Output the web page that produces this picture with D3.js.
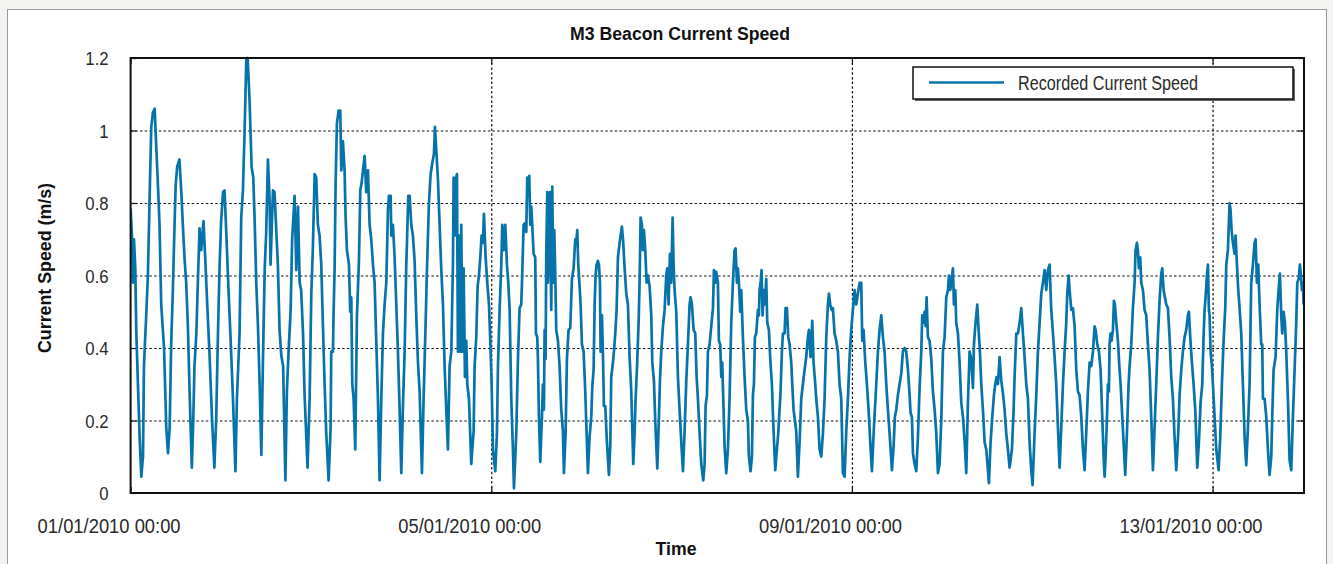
<!DOCTYPE html>
<html>
<head>
<meta charset="utf-8">
<script src="https://cdn.jsdelivr.net/npm/d3@7"></script>
<style>
body{margin:0;background:#f3f3f1;}
svg{display:block;}
</style>
</head>
<body>
<div id="chart"></div>
<script>
var chartTitle = "M3 Beacon Current Speed";
var yTitle = "Current Speed (m/s)";
var xTitle = "Time";
var legendLabel = "Recorded Current Speed";
var yTicks = [0, 0.2, 0.4, 0.6, 0.8, 1, 1.2];
var yTickLabels = ["0", "0.2", "0.4", "0.6", "0.8", "1", "1.2"];
var dateTicks = ["2010-01-01T00:00Z", "2010-01-05T00:00Z", "2010-01-09T00:00Z", "2010-01-13T00:00Z"];
var startTime = "2010-01-01T00:00Z";
var endTime = "2010-01-14T00:20Z";

// readings: [hours since 01/01/2010 00:00, speed m/s]
// 01/01 00:00 - 03/01 02:00
var obs1 = [[0,0.785],[0.35,0.71],[0.6,0.58],[0.9,0.70],[1.25,0.62],[1.5,0.45],[1.95,0.30],[2.4,0.155],[2.85,0.045],[3.3,0.10],[3.55,0.35],[4.2,0.50],[4.6,0.60],[5.05,0.81],[5.5,1.01],[5.95,1.05],[6.4,1.06],[6.85,0.95],[7.3,0.845],[7.7,0.74],[8.15,0.52],[8.9,0.40],[9.5,0.18],[9.95,0.11],[10.4,0.18],[10.8,0.41],[11.25,0.56],[11.7,0.74],[12.0,0.85],[12.4,0.90],[13.0,0.92],[13.5,0.83],[13.9,0.74],[14.4,0.64],[14.8,0.58],[15.25,0.46],[15.7,0.28],[16.3,0.07],[16.7,0.21],[17.0,0.35],[17.5,0.44],[17.9,0.58],[18.35,0.73],[18.8,0.67],[19.4,0.75],[19.9,0.64],[20.4,0.52],[21.0,0.385],[21.65,0.21],[22.3,0.07],[22.8,0.21],[23.25,0.44],[23.7,0.63],[24.1,0.75],[24.6,0.83],[25.0,0.835],[25.5,0.71],[26.1,0.55],[26.6,0.43],[27.25,0.26],[27.9,0.06],[28.3,0.26],[29.0,0.44],[29.45,0.76],[29.9,0.835],[30.35,1.00],[30.8,1.195],[31.15,1.2],[31.6,1.10],[31.95,0.99],[32.2,0.90],[32.65,0.87],[33.0,0.76],[33.45,0.58],[33.9,0.46],[34.35,0.30],[34.8,0.105],[35.2,0.35],[35.7,0.62],[36.1,0.72],[36.55,0.92],[37.0,0.81],[37.25,0.63],[37.9,0.835],[38.3,0.83],[38.8,0.72],[39.2,0.63],[39.65,0.45],[40.1,0.38],[40.6,0.35],[41.2,0.035],[41.6,0.28],[42.05,0.39],[42.6,0.505],[43.0,0.70],[43.65,0.82],[44.1,0.615],[44.55,0.79],[45.0,0.58],[45.4,0.56],[45.9,0.44],[46.3,0.275],[47.1,0.07],[47.65,0.26],[48.1,0.55],[48.5,0.67],[49.0,0.88],[49.4,0.87],[49.85,0.74],[50.3,0.71]];
// 03/01 02:00 - 05/01 07:30
var obs2 = [[50.75,0.63],[51.2,0.46],[51.64,0.30],[52.08,0.165],[52.71,0.035],[53.24,0.18],[53.41,0.39],[53.86,0.39],[54.04,0.50],[54.3,0.615],[54.57,0.855],[54.92,1.02],[55.37,1.055],[55.81,1.055],[56.08,0.89],[56.52,0.97],[56.96,0.89],[57.23,0.76],[57.59,0.67],[58.12,0.63],[58.47,0.50],[58.74,0.54],[59.01,0.30],[59.36,0.26],[59.8,0.12],[60.25,0.49],[60.78,0.64],[61.14,0.835],[61.49,0.855],[61.85,0.89],[62.29,0.93],[62.73,0.83],[63.18,0.89],[63.62,0.74],[64.06,0.70],[64.51,0.63],[64.95,0.58],[65.39,0.42],[65.84,0.26],[66.28,0.035],[66.73,0.26],[67.17,0.44],[67.61,0.52],[68.06,0.58],[68.5,0.78],[68.77,0.82],[69.21,0.82],[69.39,0.71],[69.83,0.74],[70.27,0.65],[70.72,0.52],[71.16,0.39],[71.61,0.23],[72.05,0.055],[72.49,0.24],[72.94,0.39],[73.38,0.63],[73.56,0.69],[73.91,0.82],[74.27,0.82],[74.71,0.74],[75.15,0.71],[75.6,0.64],[76.04,0.49],[76.49,0.36],[76.93,0.28],[77.55,0.055],[77.99,0.26],[78.53,0.47],[78.88,0.615],[79.41,0.80],[79.86,0.88],[80.3,0.91],[80.74,0.935],[81.01,1.01],[81.37,0.945],[81.81,0.865],[82.25,0.74],[82.7,0.615],[83.14,0.52],[83.58,0.35],[84.03,0.23],[84.47,0.12],[84.91,0.35],[85.36,0.39],[85.8,0.63],[85.98,0.87],[86.25,0.71],[86.51,0.86],[86.87,0.88],[87.13,0.39],[87.4,0.71],[87.75,0.39],[88.02,0.74],[88.29,0.39],[88.64,0.62],[89.0,0.32],[89.35,0.42],[89.62,0.30],[90.06,0.26],[90.68,0.08],[91.3,0.17],[91.57,0.35],[92.01,0.43],[92.37,0.57],[92.72,0.60],[93.08,0.65],[93.43,0.71],[93.79,0.69],[94.05,0.77],[94.5,0.65],[94.94,0.58],[95.39,0.52],[95.74,0.42],[96.1,0.30],[96.45,0.12],[97.07,0.06],[97.51,0.165],[97.78,0.35],[98.22,0.505],[98.67,0.63],[98.93,0.74],[99.29,0.67],[99.73,0.74],[100.18,0.63],[100.53,0.58],[100.89,0.505],[101.33,0.26],[101.77,0.12],[102.04,0.013],[102.66,0.165],[103.11,0.37]];
// 05/01 07:30 - 07/01 11:00
var obs3 = [[103.54,0.51],[103.98,0.52],[104.25,0.605],[104.61,0.74],[105.05,0.745],[105.32,0.72],[105.58,0.87],[105.85,0.82],[106.11,0.875],[106.38,0.74],[106.65,0.79],[106.91,0.74],[107.27,0.66],[107.71,0.65],[107.89,0.44],[108.24,0.43],[108.42,0.37],[108.69,0.21],[109.04,0.086],[109.49,0.21],[109.75,0.30],[110.02,0.23],[110.2,0.45],[110.46,0.37],[110.64,0.66],[110.91,0.83],[111.08,0.58],[111.35,0.68],[111.62,0.83],[111.97,0.505],[112.24,0.845],[112.5,0.58],[112.77,0.725],[113.04,0.60],[113.3,0.45],[113.75,0.42],[114.19,0.35],[114.63,0.23],[115.08,0.17],[115.34,0.055],[115.79,0.165],[116.14,0.37],[116.58,0.45],[117.03,0.455],[117.47,0.59],[117.92,0.62],[118.36,0.70],[118.63,0.69],[118.89,0.725],[119.16,0.63],[119.51,0.57],[119.78,0.52],[120.13,0.41],[120.58,0.39],[121.02,0.28],[121.38,0.165],[121.73,0.055],[122.17,0.155],[122.62,0.21],[122.88,0.29],[123.24,0.34],[123.51,0.52],[123.77,0.60],[124.04,0.63],[124.39,0.64],[124.66,0.63],[124.93,0.58],[125.1,0.39],[125.46,0.49],[125.72,0.385],[125.99,0.24],[126.34,0.24],[126.79,0.14],[127.32,0.05],[127.68,0.13],[127.94,0.32],[128.39,0.36],[128.65,0.39],[129.01,0.44],[129.36,0.505],[129.72,0.65],[130.16,0.69],[130.43,0.71],[130.78,0.735],[131.14,0.69],[131.49,0.62],[131.94,0.55],[132.38,0.52],[132.82,0.375],[133.27,0.28],[133.53,0.18],[133.8,0.08],[134.15,0.165],[134.42,0.26],[134.77,0.34],[135.22,0.47],[135.48,0.58],[135.75,0.76],[136.11,0.74],[136.37,0.67],[136.64,0.725],[136.99,0.67],[137.35,0.58],[137.7,0.60],[138.15,0.57],[138.59,0.49],[138.86,0.36],[139.3,0.31],[139.65,0.20],[140.19,0.068],[140.63,0.21],[140.9,0.31],[141.25,0.39],[141.7,0.46],[142.14,0.505],[142.58,0.60],[142.85,0.62],[143.2,0.52],[143.56,0.66],[143.91,0.58],[144.27,0.76],[144.53,0.63],[144.8,0.56],[145.24,0.50],[145.69,0.32],[146.13,0.23],[146.58,0.14],[147.02,0.06],[147.46,0.17],[147.91,0.31],[148.35,0.41],[148.79,0.52],[149.06,0.54],[149.41,0.52],[149.86,0.45],[150.3,0.44],[150.66,0.32],[151.01,0.26],[151.46,0.165],[151.9,0.08],[152.43,0.035],[152.79,0.08],[153.05,0.24],[153.41,0.27],[153.67,0.39],[154.12,0.41],[154.56,0.46],[155.01,0.51],[155.27,0.615]];
// 07/01 11:00 - 09/01 15:30
var obs4 = [[155.71,0.58],[155.88,0.61],[156.33,0.58],[156.59,0.42],[156.95,0.41],[157.22,0.32],[157.48,0.36],[157.84,0.23],[158.1,0.13],[158.55,0.055],[158.99,0.12],[159.43,0.26],[159.88,0.47],[160.32,0.58],[160.76,0.67],[161.03,0.675],[161.39,0.58],[161.65,0.62],[161.92,0.58],[162.27,0.50],[162.54,0.56],[162.98,0.43],[163.43,0.32],[163.87,0.23],[164.31,0.20],[164.58,0.10],[165.02,0.06],[165.38,0.10],[165.65,0.27],[165.91,0.30],[166.18,0.43],[166.53,0.44],[166.98,0.505],[167.24,0.49],[167.42,0.56],[167.69,0.58],[167.95,0.615],[168.22,0.49],[168.48,0.56],[168.84,0.52],[169.19,0.59],[169.46,0.47],[169.9,0.45],[170.26,0.37],[170.7,0.30],[171.15,0.17],[171.59,0.063],[172.03,0.12],[172.39,0.165],[172.74,0.23],[173.01,0.28],[173.36,0.39],[173.63,0.44],[174.07,0.44],[174.34,0.51],[174.7,0.51],[175.05,0.43],[175.41,0.41],[175.85,0.36],[176.12,0.30],[176.47,0.23],[176.83,0.20],[177.18,0.17],[177.62,0.045],[178.07,0.14],[178.51,0.26],[178.95,0.30],[179.4,0.34],[179.84,0.375],[180.29,0.43],[180.55,0.45],[181.0,0.375],[181.44,0.475],[181.79,0.36],[182.24,0.30],[182.5,0.26],[182.95,0.21],[183.39,0.12],[183.84,0.10],[184.28,0.165],[184.72,0.26],[185.17,0.43],[185.61,0.52],[185.88,0.55],[186.23,0.52],[186.59,0.505],[186.94,0.51],[187.38,0.44],[187.83,0.42],[188.27,0.39],[188.71,0.30],[189.16,0.26],[189.6,0.055],[190.05,0.045],[190.49,0.17],[190.93,0.26],[191.38,0.375],[191.82,0.45],[192.26,0.505],[192.71,0.56],[193.15,0.52],[193.6,0.55],[194.04,0.58],[194.48,0.58],[194.75,0.42],[195.1,0.45],[195.55,0.36],[195.99,0.30],[196.43,0.23],[196.88,0.14],[197.32,0.06],[197.85,0.18],[198.48,0.30],[198.92,0.39],[199.36,0.45],[199.81,0.49],[200.25,0.43],[200.69,0.39],[201.14,0.30],[201.58,0.23],[202.02,0.165],[202.65,0.063],[203.09,0.13],[203.44,0.21],[203.8,0.23],[204.24,0.27],[204.69,0.30],[205.13,0.33],[205.57,0.39],[206.02,0.40],[206.46,0.39],[206.91,0.34],[207.35,0.27]];
// 09/01 15:30 - 11/01 19:30
var obs5 = [[207.62,0.22],[207.97,0.21],[208.24,0.11],[208.68,0.08],[209.13,0.06],[209.57,0.155],[210.01,0.29],[210.46,0.39],[210.72,0.49],[211.08,0.47],[211.34,0.50],[211.61,0.46],[211.88,0.54],[212.23,0.43],[212.67,0.42],[213.12,0.37],[213.56,0.28],[214.01,0.23],[214.45,0.165],[214.89,0.055],[215.34,0.08],[215.78,0.20],[216.22,0.39],[216.67,0.43],[217.11,0.54],[217.56,0.56],[217.82,0.60],[218.18,0.56],[218.44,0.58],[218.89,0.62],[219.15,0.52],[219.51,0.56],[219.77,0.47],[220.22,0.44],[220.66,0.36],[221.1,0.25],[221.55,0.21],[221.99,0.145],[222.44,0.055],[222.88,0.25],[223.32,0.39],[223.77,0.37],[224.21,0.29],[224.48,0.41],[224.83,0.46],[225.36,0.52],[225.72,0.45],[226.07,0.39],[226.43,0.30],[226.87,0.23],[227.32,0.14],[227.76,0.12],[228.2,0.063],[228.47,0.027],[228.91,0.14],[229.36,0.21],[229.8,0.27],[230.15,0.30],[230.51,0.32],[230.86,0.30],[231.31,0.375],[231.75,0.31],[232.2,0.275],[232.64,0.23],[233.08,0.165],[233.53,0.12],[233.97,0.07],[234.59,0.12],[235.04,0.23],[235.3,0.32],[235.75,0.44],[236.19,0.44],[236.63,0.47],[237.08,0.51],[237.52,0.44],[237.96,0.375],[238.41,0.30],[238.85,0.26],[239.29,0.14],[239.74,0.063],[240.09,0.022],[240.62,0.165],[241.07,0.27],[241.51,0.39],[241.96,0.47],[242.4,0.55],[242.84,0.58],[243.29,0.615],[243.73,0.56],[244.17,0.615],[244.62,0.63],[245.06,0.505],[245.51,0.44],[245.95,0.375],[246.39,0.30],[246.84,0.18],[247.28,0.07],[247.72,0.18],[248.17,0.30],[248.61,0.39],[249.05,0.47],[249.32,0.55],[249.68,0.60],[249.94,0.56],[250.39,0.505],[250.83,0.51],[251.27,0.46],[251.72,0.34],[252.16,0.28],[252.6,0.27],[253.05,0.21],[253.49,0.12],[253.93,0.063],[254.38,0.17],[254.82,0.28],[255.27,0.36],[255.71,0.35],[256.15,0.39],[256.6,0.46],[256.86,0.45],[257.31,0.41],[257.75,0.39],[258.19,0.34],[258.64,0.21],[258.99,0.10],[259.26,0.045]];
// 11/01 19:30 - 14/01 00:15
var obs6 = [[259.52,0.10],[259.87,0.20],[260.14,0.30],[260.4,0.28],[260.58,0.41],[260.85,0.44],[261.11,0.42],[261.47,0.45],[261.74,0.53],[262.0,0.52],[262.36,0.47],[262.8,0.42],[263.24,0.34],[263.51,0.30],[263.86,0.23],[264.31,0.14],[264.75,0.05],[265.2,0.165],[265.64,0.30],[265.91,0.35],[266.35,0.41],[266.79,0.51],[267.24,0.58],[267.5,0.67],[267.86,0.69],[268.12,0.67],[268.39,0.62],[268.75,0.65],[269.01,0.58],[269.46,0.56],[269.9,0.505],[270.34,0.49],[270.79,0.41],[271.23,0.34],[271.67,0.21],[272.12,0.063],[272.56,0.18],[273.0,0.30],[273.45,0.43],[273.89,0.53],[274.34,0.605],[274.6,0.62],[274.96,0.56],[275.31,0.54],[275.67,0.52],[276.11,0.51],[276.55,0.43],[277.0,0.32],[277.44,0.26],[277.88,0.155],[278.33,0.063],[278.86,0.165],[279.22,0.27],[279.66,0.34],[280.1,0.39],[280.55,0.43],[280.99,0.45],[281.43,0.49],[281.7,0.50],[282.05,0.43],[282.5,0.36],[282.94,0.30],[283.39,0.23],[283.92,0.07],[284.36,0.14],[284.81,0.25],[285.25,0.30],[285.6,0.43],[285.87,0.505],[286.14,0.54],[286.49,0.60],[286.76,0.63],[287.02,0.505],[287.2,0.49],[287.47,0.39],[287.82,0.35],[288.09,0.30],[288.53,0.21],[288.98,0.12],[289.6,0.063],[290.04,0.155],[290.48,0.30],[290.93,0.42],[291.37,0.51],[291.64,0.63],[292.08,0.67],[292.52,0.80],[292.79,0.78],[293.06,0.725],[293.41,0.69],[293.86,0.66],[294.12,0.71],[294.48,0.63],[294.83,0.56],[295.19,0.51],[295.63,0.44],[296.07,0.30],[296.52,0.155],[296.96,0.077],[297.41,0.18],[297.85,0.30],[298.29,0.58],[298.74,0.63],[299.18,0.69],[299.45,0.70],[299.8,0.58],[300.16,0.63],[300.51,0.52],[300.95,0.41],[301.22,0.41],[301.4,0.26],[301.84,0.26],[302.29,0.21],[302.73,0.12],[303.17,0.05],[303.62,0.10],[303.88,0.21],[304.24,0.34],[304.77,0.375],[305.21,0.505],[305.57,0.56],[305.92,0.605],[306.28,0.49],[306.54,0.44],[306.9,0.50],[307.25,0.47],[307.61,0.39],[308.05,0.26],[308.5,0.09],[308.94,0.063],[309.38,0.21],[309.83,0.34],[310.27,0.47],[310.54,0.58],[310.89,0.59],[311.25,0.63],[311.51,0.60],[311.78,0.56],[312.05,0.58],[312.22,0.52]];

var width = 1333, height = 564;
var plot = {left: 130.6, right: 1304, top: 58, bottom: 493};
var lineColor = "#0673aa";
var fontFam = '"Liberation Sans",Arial,Helvetica,sans-serif';

var t0 = new Date(startTime);
var series = [].concat(obs1, obs2, obs3, obs4, obs5, obs6).map(function(p){
  return {t: new Date(+t0 + p[0] * 3600000), v: p[1]};
});

var x = d3.scaleUtc().domain([t0, new Date(endTime)]).range([plot.left, plot.right]);
var y = d3.scaleLinear().domain([0, 1.2]).range([plot.bottom, plot.top]);
var tickDates = dateTicks.map(function(s){ return new Date(s); });
var fmt = d3.utcFormat("%d/%m/%Y %H:%M");

// squeeze text horizontally, the original uses a condensed face
var condense = function(sel, k){
  sel.each(function(){
    var w = this.getComputedTextLength();
    d3.select(this).attr('textLength', w * k).attr('lengthAdjust', 'spacingAndGlyphs');
  });
};

var svg = d3.select('#chart').append('svg').attr('width', width).attr('height', height);

svg.append('rect').attr('width', width).attr('height', height).attr('fill', '#f3f3f1');
svg.append('rect').attr('x', 7.5).attr('y', 9.5).attr('width', 1319).attr('height', 600)
  .attr('fill', '#fff').attr('stroke', '#9a9a9a').attr('stroke-width', 1);

var pw = plot.right - plot.left, ph = plot.bottom - plot.top;

// gridlines
var gy = svg.append('g').attr('transform', 'translate(' + plot.left + ',0)')
  .call(d3.axisLeft(y).tickValues(yTicks.slice(1, -1)).tickSize(-pw).tickFormat(''));
var gx = svg.append('g').attr('transform', 'translate(0,' + plot.bottom + ')')
  .call(d3.axisBottom(x).tickValues(tickDates.slice(1)).tickSize(-ph).tickFormat(''));
[gy, gx].forEach(function(g){
  g.select('.domain').remove();
  g.selectAll('line').attr('stroke', '#111').attr('stroke-width', 1.2).attr('stroke-dasharray', '2.5,2.2');
});

// inner tick marks on all four sides
var tk = 6;
svg.append('g').attr('transform', 'translate(' + plot.left + ',0)')
  .call(d3.axisRight(y).tickValues(yTicks).tickSize(tk).tickFormat(''));
svg.append('g').attr('transform', 'translate(' + plot.right + ',0)')
  .call(d3.axisLeft(y).tickValues(yTicks).tickSize(tk).tickFormat(''));
svg.append('g').attr('transform', 'translate(0,' + plot.bottom + ')')
  .call(d3.axisTop(x).tickValues(tickDates).tickSize(tk).tickFormat(''));
svg.append('g').attr('transform', 'translate(0,' + plot.top + ')')
  .call(d3.axisBottom(x).tickValues(tickDates).tickSize(tk).tickFormat(''));
svg.selectAll('.domain').remove();
svg.selectAll('.tick line').filter(function(){ return !this.getAttribute('stroke-dasharray'); })
  .attr('stroke', '#111').attr('stroke-width', 1.2);

// y tick labels
var yl = svg.append('g').attr('transform', 'translate(' + plot.left + ',0)')
  .call(d3.axisLeft(y).tickValues(yTicks).tickSize(0).tickPadding(22)
    .tickFormat(function(d, i){ return yTickLabels[i]; }));
yl.select('.domain').remove();
yl.selectAll('text').attr('font-family', fontFam).attr('font-size', 19).attr('fill', '#2a2a2a')
  .attr('dy', '0.36em').call(condense, 0.88);

// x tick labels
var xl = svg.append('g').attr('transform', 'translate(0,' + plot.bottom + ')')
  .call(d3.axisBottom(x).tickValues(tickDates).tickSize(0).tickFormat(fmt));
xl.select('.domain').remove();
xl.selectAll('text').attr('font-family', fontFam).attr('font-size', 20.5).attr('fill', '#2a2a2a')
  .attr('dy', 0).attr('y', 40).attr('dx', -22)
  .attr('textLength', 143).attr('lengthAdjust', 'spacingAndGlyphs');

// data line
svg.append('clipPath').attr('id', 'clip').append('rect')
  .attr('x', plot.left).attr('y', plot.top - 3).attr('width', pw).attr('height', ph + 3);
var line = d3.line().x(function(d){ return x(d.t); }).y(function(d){ return y(d.v); });
svg.append('path').datum(series).attr('clip-path', 'url(#clip)')
  .attr('d', line).attr('fill', 'none').attr('stroke', lineColor)
  .attr('stroke-width', 2.7).attr('stroke-linejoin', 'round');

// plot frame
svg.append('rect').attr('x', plot.left).attr('y', plot.top).attr('width', pw).attr('height', ph)
  .attr('fill', 'none').attr('stroke', '#111').attr('stroke-width', 2);

// titles
svg.append('text').attr('x', 680).attr('y', 40).attr('text-anchor', 'middle')
  .attr('font-family', fontFam).attr('font-weight', 'bold').attr('font-size', 18).attr('fill', '#111')
  .attr('textLength', 220).attr('lengthAdjust', 'spacingAndGlyphs').text(chartTitle);
svg.append('text').attr('transform', 'translate(51,268) rotate(-90)').attr('text-anchor', 'middle')
  .attr('font-family', fontFam).attr('font-weight', 'bold').attr('font-size', 19).attr('fill', '#111')
  .attr('textLength', 170).attr('lengthAdjust', 'spacingAndGlyphs').text(yTitle);
svg.append('text').attr('x', 676).attr('y', 555).attr('text-anchor', 'middle')
  .attr('font-family', fontFam).attr('font-weight', 'bold').attr('font-size', 19).attr('fill', '#111')
  .attr('textLength', 41).attr('lengthAdjust', 'spacingAndGlyphs').text(xTitle);

// legend
var lg = svg.append('g');
lg.append('rect').attr('x', 915).attr('y', 69).attr('width', 380).attr('height', 32).attr('fill', '#666');
lg.append('rect').attr('x', 913).attr('y', 67).attr('width', 380).attr('height', 32)
  .attr('fill', '#fff').attr('stroke', '#111').attr('stroke-width', 1.5);
lg.append('line').attr('x1', 929).attr('x2', 1004).attr('y1', 82.5).attr('y2', 82.5)
  .attr('stroke', lineColor).attr('stroke-width', 2.7);
lg.append('text').attr('x', 1018).attr('y', 90).attr('font-family', fontFam).attr('font-size', 19.5)
  .attr('fill', '#2a2a2a').attr('textLength', 180).attr('lengthAdjust', 'spacingAndGlyphs').text(legendLabel);
</script>
</body>
</html>
